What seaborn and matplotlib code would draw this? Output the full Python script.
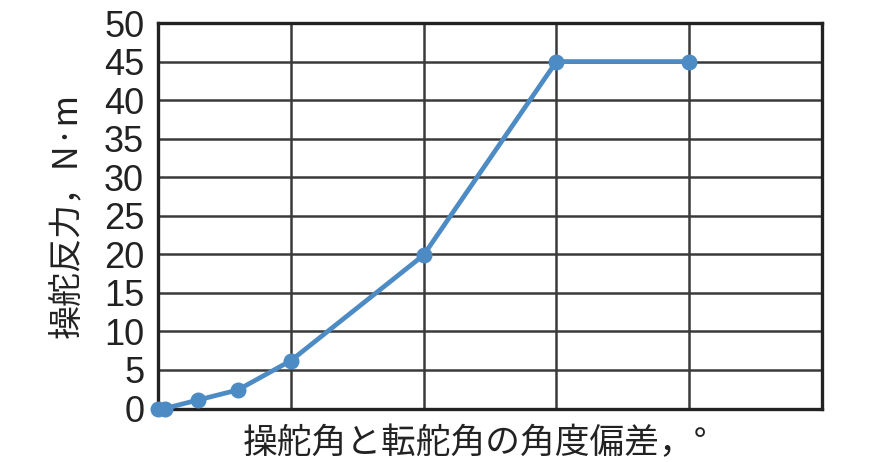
import matplotlib
matplotlib.use("Agg")
import matplotlib.pyplot as plt
import seaborn as sns
import pandas as pd

# データ
angle_diff = [0, 0.5, 3, 6, 10, 20, 30, 40]
steer_force = [0, 0, 1.1, 2.4, 6.2, 19.9, 45, 45]

y_ticks = [0, 5, 10, 15, 20, 25, 30, 35, 40, 45, 50]
x_grid = [0, 10, 20, 30, 40, 50]

x_label = "操舵角と転舵角の角度偏差，°"
y_label = "操舵反力，N·m"

sns.set_theme(style="white")
plt.rcParams["font.family"] = ["Liberation Sans", "Noto Sans CJK JP", "DejaVu Sans"]

df = pd.DataFrame({"angle": angle_diff, "force": steer_force})

fig = plt.figure(figsize=(8.74, 4.62), dpi=100)
ax = fig.add_axes([0.1808, 0.1158, 0.9405 - 0.1808, 0.9502 - 0.1158])

sns.lineplot(
    data=df,
    x="angle",
    y="force",
    ax=ax,
    color="#4d8bc4",
    linewidth=3.4,
    marker="o",
    markersize=11.5,
    markeredgewidth=0,
    clip_on=False,
    zorder=5,
)

ax.set_xlim(0, 50)
ax.set_ylim(0, 50)
ax.set_xticks(x_grid)
ax.set_xticklabels([])
ax.set_yticks(y_ticks)
ax.set_yticklabels([str(v) for v in y_ticks], fontsize=26, color="#222222")
ax.tick_params(axis="both", length=0, pad=10)

ax.grid(True, color="#3a3a3a", linewidth=1.8)
ax.set_axisbelow(True)
for side in ax.spines.values():
    side.set_color("#222222")
    side.set_linewidth(2.4)

ax.set_xlabel(x_label, fontsize=25, color="#222222",
              family=["Noto Sans CJK JP", "DejaVu Sans"], labelpad=0)
ax.xaxis.set_label_coords(0.478, -0.045)
ax.set_ylabel(y_label, fontsize=24.5, color="#222222",
              family=["Noto Sans CJK JP", "DejaVu Sans"], labelpad=14)

fig.savefig("out.png", dpi=100)
